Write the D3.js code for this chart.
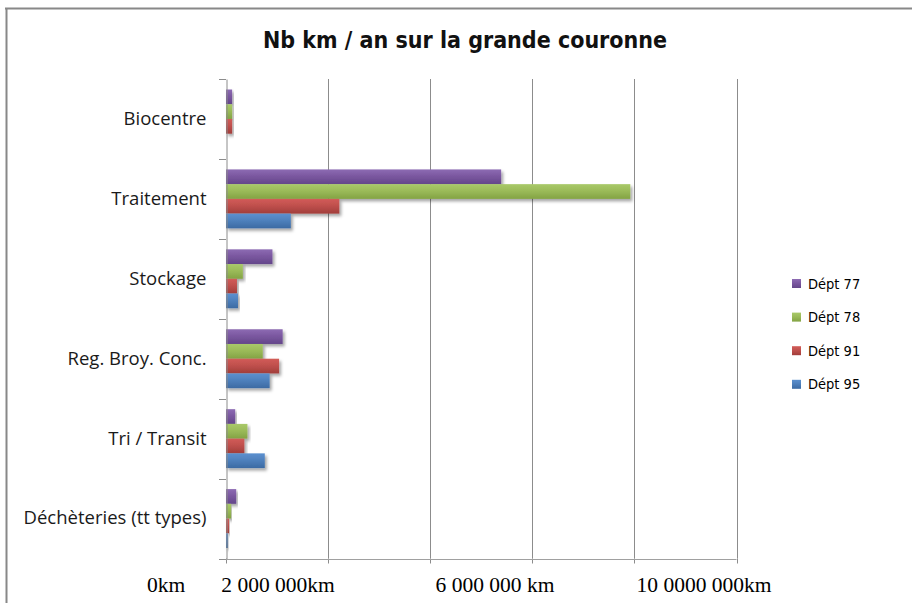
<!DOCTYPE html>
<html>
<head>
<meta charset="utf-8">
<script src="https://cdn.jsdelivr.net/npm/d3@7/dist/d3.min.js"></script>
<style>
  html, body { margin: 0; padding: 0; background: #fff; }
  svg { display: block; }
</style>
</head>
<body>
<script>
// Kilometres per year by site type, for the four outer-ring départements
const categories = ["Biocentre", "Traitement", "Stockage", "Reg. Broy. Conc.", "Tri / Transit", "Déchèteries (tt types)"];
const seriesNames = ["Dépt 77", "Dépt 78", "Dépt 91", "Dépt 95"];
const dept77 = [120000, 5390000, 910000, 1110000, 180000, 200000];
const dept78 = [120000, 7920000, 330000, 720000, 420000, 100000];
const dept91 = [120000, 2220000, 215000, 1040000, 360000, 60000];
const dept95 = [0, 1270000, 235000, 855000, 760000, 40000];
const gridValues = [0, 2000000, 4000000, 6000000, 8000000, 10000000];
const axisLabels = ["0km", "2 000 000km", "6 000 000 km", "10 0000 000km"];

const W = 912, H = 603;
const seriesValues = [dept77, dept78, dept91, dept95];
const colors = [
  { top: "#8d6bb3", mid: "#7b58a0", bot: "#64468a" },
  { top: "#a9c96a", mid: "#9bbb59", bot: "#83a344" },
  { top: "#d25c58", mid: "#c0504d", bot: "#a13d3a" },
  { top: "#5c90cf", mid: "#4f81bd", bot: "#3b6aa3" }
];

const svg = d3.select("body").append("svg").attr("width", W).attr("height", H);
const defs = svg.append("defs");
colors.forEach((c, i) => {
  const g = defs.append("linearGradient").attr("id", "grad" + i)
    .attr("x1", 0).attr("y1", 0).attr("x2", 0).attr("y2", 1);
  g.append("stop").attr("offset", "0%").attr("stop-color", c.top);
  g.append("stop").attr("offset", "45%").attr("stop-color", c.mid);
  g.append("stop").attr("offset", "100%").attr("stop-color", c.bot);
});
const shadow = defs.append("filter").attr("id", "shadow")
  .attr("x", "-5%").attr("y", "-20%").attr("width", "120%").attr("height", "160%");
shadow.append("feDropShadow").attr("dx", 2).attr("dy", 2.5).attr("stdDeviation", 1.6)
  .attr("flood-color", "#000").attr("flood-opacity", 0.35);

// Chart frame (runs off the right and bottom edges)
svg.append("line").attr("x1", 5).attr("x2", W).attr("y1", 8.5).attr("y2", 8.5)
  .attr("stroke", "#888").attr("stroke-width", 2);
svg.append("line").attr("x1", 6.5).attr("x2", 6.5).attr("y1", 8).attr("y2", H)
  .attr("stroke", "#888").attr("stroke-width", 2);

// Title
svg.append("text").attr("x", 465).attr("y", 48).attr("text-anchor", "middle")
  .attr("font-family", "'DejaVu Sans Condensed', 'DejaVu Sans', sans-serif")
  .attr("font-size", 23).attr("font-weight", "bold").attr("fill", "#111")
  .text("Nb km / an sur la grande couronne");

const plot = { left: 226, right: 736.5, top: 79, bottom: 558.5 };
const x = d3.scaleLinear().domain([0, 10000000]).range([plot.left, plot.right]);
const y = d3.scaleBand().domain(categories).range([plot.top, plot.bottom]).padding(0);
const ySub = d3.scaleBand().domain(seriesNames)
  .range([10.5, y.bandwidth() - 10.5]).padding(0);

// Vertical gridlines
svg.append("g").selectAll("line").data(gridValues.slice(1)).join("line")
  .attr("x1", d => Math.round(x(d)) + 0.5).attr("x2", d => Math.round(x(d)) + 0.5)
  .attr("y1", plot.top).attr("y2", plot.bottom)
  .attr("stroke", "#8c8c8c").attr("stroke-width", 1);

// Bottom axis tick marks
svg.append("g").selectAll("line").data(gridValues).join("line")
  .attr("x1", d => Math.round(x(d)) + 0.5).attr("x2", d => Math.round(x(d)) + 0.5)
  .attr("y1", plot.bottom).attr("y2", plot.bottom + 5)
  .attr("stroke", "#8c8c8c");
svg.append("line").attr("x1", plot.left).attr("x2", plot.right)
  .attr("y1", Math.round(plot.bottom) + 0.5).attr("y2", Math.round(plot.bottom) + 0.5)
  .attr("stroke", "#a0a0a0");

// Bars
const rows = categories.map((c, ci) => ({ cat: c, vals: seriesNames.map((s, si) => ({ s, si, v: seriesValues[si][ci] })) }));
const groups = svg.append("g").selectAll("g").data(rows).join("g")
  .attr("transform", d => `translate(0,${y(d.cat)})`);
groups.selectAll("rect").data(d => d.vals.filter(e => e.v > 0)).join("rect")
  .attr("x", x(0))
  .attr("y", d => ySub(d.s))
  .attr("width", d => x(d.v) - x(0))
  .attr("height", ySub.bandwidth())
  .attr("fill", d => `url(#grad${d.si})`)
  .attr("filter", "url(#shadow)");

// Category axis
const yAxis = d3.axisLeft(y).tickSize(0).tickPadding(20);
const yg = svg.append("g").attr("transform", `translate(${plot.left + 0.5},0)`).call(yAxis);
yg.select(".domain").attr("stroke", "#8c8c8c");
yg.selectAll("text")
  .attr("font-family", "'Open Sans', sans-serif").attr("font-size", 18.5)
  .attr("fill", "#1a1a1a").attr("dy", "0.32em");
const bounds = [plot.top].concat(categories.map(c => y(c) + y.bandwidth()));
svg.append("g").selectAll("line").data(bounds).join("line")
  .attr("x1", plot.left - 7).attr("x2", plot.left)
  .attr("y1", d => Math.round(d) + 0.5).attr("y2", d => Math.round(d) + 0.5)
  .attr("stroke", "#8c8c8c");

// Value labels under the axis
const labelCenters = [166, 278, 495, 704];
svg.append("g").selectAll("text").data(axisLabels).join("text")
  .attr("x", (d, i) => labelCenters[i]).attr("y", 592)
  .attr("text-anchor", "middle")
  .attr("font-family", "'Liberation Serif', serif").attr("font-size", 21.5)
  .attr("fill", "#000").text(d => d);

// Legend
const legend = svg.append("g").attr("transform", "translate(792,279)");
const li = legend.selectAll("g").data(seriesNames).join("g")
  .attr("transform", (d, i) => `translate(0,${i * 33.6})`);
li.append("rect").attr("width", 9).attr("height", 9)
  .attr("fill", (d, i) => `url(#grad${i})`);
li.append("text").attr("x", 16).attr("y", 9.5)
  .attr("font-family", "'DejaVu Sans Condensed', 'DejaVu Sans', sans-serif")
  .attr("font-size", 14.5).attr("fill", "#000").text(d => d);
</script>
</body>
</html>
